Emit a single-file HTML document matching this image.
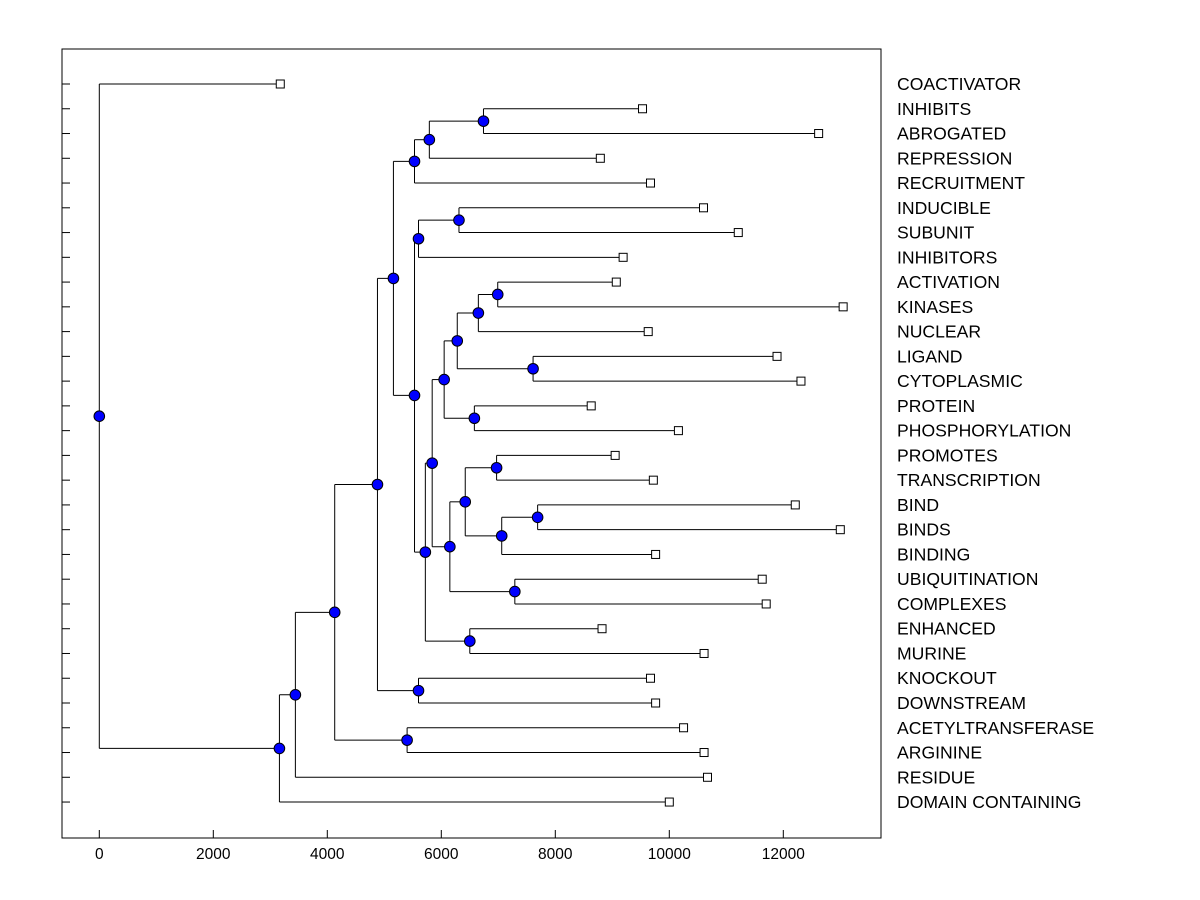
<!DOCTYPE html>
<html><head><meta charset="utf-8"><style>
body{margin:0;background:#fff}
svg{display:block;font-family:"Liberation Sans",Arial,sans-serif}
</style></head><body>
<svg id="chart" width="1200" height="900">
<rect x="62" y="49" width="819" height="789" fill="#fff" stroke="#000" stroke-width="1"/>
<g id="g"></g>
</svg>
<script>
const leafNames=["COACTIVATOR","INHIBITS","ABROGATED","REPRESSION","RECRUITMENT","INDUCIBLE","SUBUNIT","INHIBITORS","ACTIVATION","KINASES","NUCLEAR","LIGAND","CYTOPLASMIC","PROTEIN","PHOSPHORYLATION","PROMOTES","TRANSCRIPTION","BIND","BINDS","BINDING","UBIQUITINATION","COMPLEXES","ENHANCED","MURINE","KNOCKOUT","DOWNSTREAM","ACETYLTRANSFERASE","ARGININE","RESIDUE","DOMAIN CONTAINING"];
const leafValues=[3175,9530,12620,8790,9670,10600,11210,9190,9070,13050,9630,11890,12310,8630,10160,9050,9720,12210,13000,9760,11630,11700,8820,10610,9670,9760,10250,10610,10670,10000];
// internal nodes: [childA, childB]; children "L#" = leaf index, "N#" = node index
const nodeChildren=[
["L1","L2"],["N0","L3"],["N1","L4"],["L5","L6"],["N3","L7"],
["L8","L9"],["N5","L10"],["L11","L12"],["N6","N7"],["L13","L14"],
["N8","N9"],["L15","L16"],["L17","L18"],["N12","L19"],["N11","N13"],
["L20","L21"],["N14","N15"],["N10","N16"],["L22","L23"],["N17","N18"],
["N4","N19"],["N2","N20"],["L24","L25"],["N21","N22"],["L26","L27"],
["N23","N24"],["N25","L28"],["N26","L29"],["L0","N27"]];
const nodeHeights=[6740,5790,5530,6310,5600,6990,6650,7610,6280,6580,6050,6970,7690,7060,6420,7290,6150,5840,6500,5720,5530,5160,5600,4880,5400,4130,3440,3160,0];
const xTicks=[0,2000,4000,6000,8000,10000,12000];

const NS="http://www.w3.org/2000/svg";
const g=document.getElementById('g');
const X=v=>99.3+v*0.057;
const Y=i=>84+i*24.76;
function mk(t,a){const e=document.createElementNS(NS,t);for(const k in a)e.setAttribute(k,a[k]);g.appendChild(e);return e;}
function pos(id){
  const idx=+id.slice(1);
  if(id[0]==='L') return {x:X(leafValues[idx]),y:Y(idx)};
  const a=pos(nodeChildren[idx][0]),b=pos(nodeChildren[idx][1]);
  return {x:X(nodeHeights[idx]),y:(a.y+b.y)/2,a:a,b:b};
}
leafNames.forEach((n,i)=>{
  const t=mk('line',{x1:62,x2:70,y1:Y(i),y2:Y(i),stroke:'#000'});
  
  
  const l=mk('text',{x:897,y:Y(i)+6,'font-size':17.6,fill:'#000'});
  l.textContent=n;
  
  
});
xTicks.forEach(v=>{
  const t=mk('line',{x1:X(v),x2:X(v),y1:838,y2:830,stroke:'#000'});
  
  
  const l=mk('text',{x:X(v),y:859,'font-size':15.5,'text-anchor':'middle'});
  l.textContent=v;
  
  
});
nodeChildren.forEach((c,i)=>{
  const p=pos('N'+i);
  [p.a,p.b].forEach(ch=>{
    const h=mk('line',{x1:p.x,x2:ch.x,y1:ch.y,y2:ch.y,stroke:'#000','stroke-width':1});
    
    
  });
  const v=mk('line',{x1:p.x,x2:p.x,y1:p.a.y,y2:p.b.y,stroke:'#000','stroke-width':1});
  
  
});
leafNames.forEach((n,i)=>{
  const s=mk('rect',{x:X(leafValues[i])-4,y:Y(i)-4,width:8,height:8,fill:'#fff',stroke:'#000'});
  
  
});
nodeChildren.forEach((c,i)=>{
  const p=pos('N'+i);
  const d=mk('circle',{cx:p.x,cy:p.y,r:5.3,fill:'#0000ff',stroke:'#000','stroke-width':1});
  
  
});
</script>
</body></html>
